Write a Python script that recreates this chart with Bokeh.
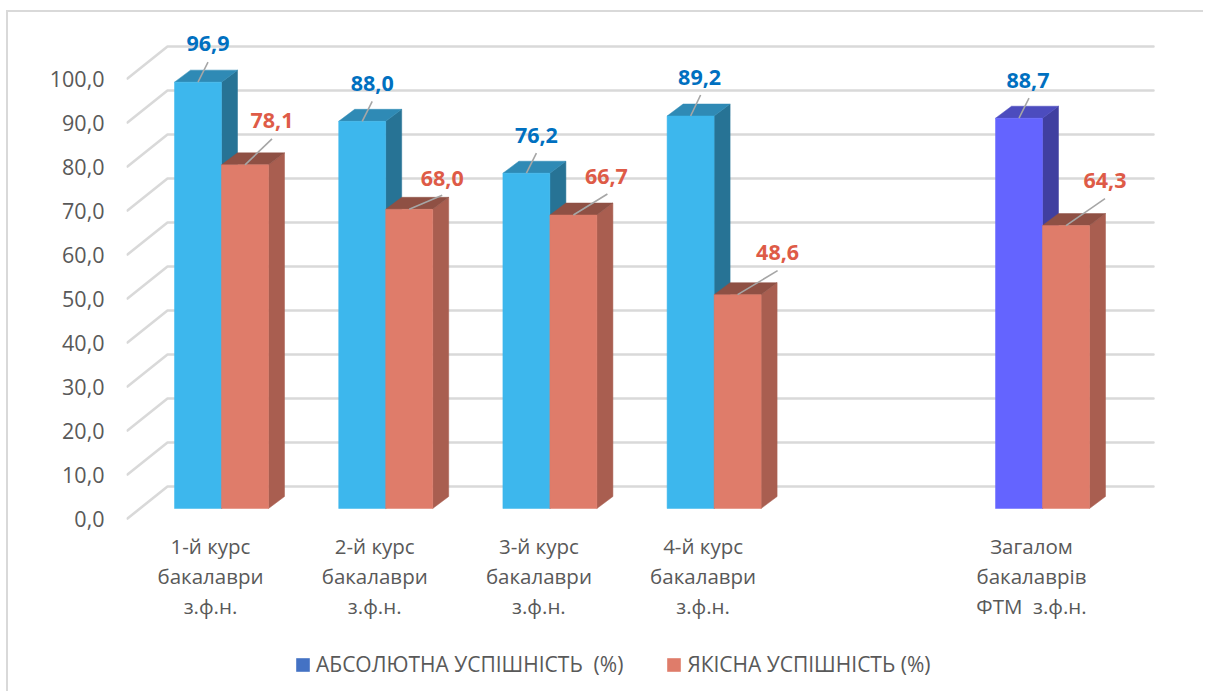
from bokeh.plotting import figure
from bokeh.embed import file_html
from bokeh.resources import INLINE
from bokeh.core.properties import value
from bokeh.models import FixedTicker, Legend, LegendItem, ColumnDataSource, Range1d

# ---- data
categories = ["1-й курс\nбакалаври\nз.ф.н.", "2-й курс\nбакалаври\nз.ф.н.",
              "3-й курс\nбакалаври\nз.ф.н.", "4-й курс\nбакалаври\nз.ф.н.",
              "Загалом\nбакалаврів\nФТМ \u00a0з.ф.н."]
positions = [0, 1, 2, 3, 5]
absolute = [96.9, 88.0, 76.2, 89.2, 88.7]
quality = [78.1, 68.0, 66.7, 48.6, 64.3]
absolute_labels = ["96,9", "88,0", "76,2", "89,2", "88,7"]
quality_labels = ["78,1", "68,0", "66,7", "48,6", "64,3"]
y_ticks = [0, 10, 20, 30, 40, 50, 60, 70, 80, 90, 100]
y_tick_labels = ["0,0", "10,0", "20,0", "30,0", "40,0", "50,0", "60,0", "70,0", "80,0", "90,0", "100,0"]
series_names = ["АБСОЛЮТНА УСПІШНІСТЬ \u00a0(%)", "ЯКІСНА УСПІШНІСТЬ (%)"]

# ---- styling / geometry
PX_X = 164.2          # px per category
PX_Y = 4.4            # px per value unit
FONT = "Open Sans"
GRID = "#D9D9D9"
TXT = "#595959"
BLUE = ("#3DB7ED", "#2F8AB5", "#277395")
PURPLE = ("#6464FF", "#4C4CBE", "#403FA0")
RED = ("#DF7C6A", "#8F5044", "#A95E50")

ORG_X, ORG_Y = 8, 12    # page position of the figure
FRAME_L, FRAME_R, FRAME_T, FRAME_B = 126, 1205, 12, 693
X0, Y0 = 210, 518       # pixel position of category 0 and of value 0 on the front edge

def ux(px):
    return px / PX_X

def uy(px):
    return px / PX_Y

p = figure(width=1205 - ORG_X, height=693 - ORG_Y, output_backend="svg", toolbar_location=None,
           frame_width=FRAME_R - FRAME_L, frame_height=FRAME_B - FRAME_T,
           x_axis_location=None,
           x_range=Range1d((FRAME_L - X0) / PX_X, (FRAME_R - X0) / PX_X),
           y_range=Range1d((Y0 - FRAME_B) / PX_Y, (Y0 - FRAME_T) / PX_Y),
           min_border_left=FRAME_L - ORG_X, min_border_top=0, min_border_right=0, min_border_bottom=0)
p.margin = (ORG_Y, 0, 0, ORG_X)
p.styles = {"box-shadow": "-2px -2px 0 0 " + GRID}
p.outline_line_color = None
p.grid.visible = False

# 3-D walls: slanted side part and back-wall gridline for each tick
wx0, wx1, wx2 = ux(127 - X0), ux(167 - X0), ux(1153 - X0)
lift = uy(32)
p.multi_line([[wx0, wx1, wx2] for _ in y_ticks],
             [[t, t + lift, t + lift] for t in y_ticks],
             line_color=GRID, line_width=2.6, line_cap="round", line_join="round")

# 3-D bars
half = ux(11)          # front plane sits right of the category label
w = ux(47)
dx, dy = ux(16), uy(12)
base = uy(10)

def bar(x0, v, cols):
    x1 = x0 + w
    top = v + base
    p.patch([x1, x1 + dx, x1 + dx, x1], [base, base + dy, top + dy, top], fill_color=cols[2], line_color=cols[2], line_width=0.5)
    p.patch([x0, x0 + dx, x1 + dx, x1], [top, top + dy, top + dy, top], fill_color=cols[1], line_color=cols[1], line_width=0.5)
    p.quad(left=x0, right=x1, bottom=base, top=top, fill_color=cols[0], line_color=cols[0], line_width=0.5)

for i, pos in enumerate(positions):
    c = pos + half
    bar(c - w, absolute[i], PURPLE if pos == 5 else BLUE)
    bar(c, quality[i], RED)

# data labels with leader lines (offsets from bar-top centre, px)
blue_off = [(10, -39), (10, -38), (10, -38), (9, -39), (9, -38)]
blue_lead = [(10, -20), (10, -20), (10, -20), (10, -21), (10, -20)]
red_off = [(27, -44), (33, -31), (33, -39), (40, -42), (39, -45)]
red_lead = [(27, -26), (33, -14), (34, -21), (40, -24), (39, -27)]

def labels(vals, texts, sign, off, lead, color):
    lx, ly, xs, ys = [], [], [], []
    for i, pos in enumerate(positions):
        cx = pos + half + sign * w / 2
        top = vals[i] + base
        lx.append(cx + ux(off[i][0]))
        ly.append(top - uy(off[i][1]))
        xs.append([cx, cx + ux(lead[i][0])])
        ys.append([top, top - uy(lead[i][1])])
    p.multi_line(xs, ys, line_color="#A6A6A6", line_width=1.6)
    p.text(lx, ly, text=texts, text_color=color, text_font=value(FONT), text_font_style="bold",
           text_font_size="21.5px", text_align="center", text_baseline="middle")

labels(absolute, absolute_labels, -1, blue_off, blue_lead, "#0070C0")
labels(quality, quality_labels, 1, red_off, red_lead, "#DE5B47")

# y axis
ya = p.yaxis[0]
ya.ticker = FixedTicker(ticks=y_ticks)
ya.bounds = (0, 100)
ya.major_label_overrides = dict(zip(y_ticks, y_tick_labels))
ya.axis_line_color = None
ya.major_tick_line_color = None
ya.minor_tick_line_color = None
ya.major_label_standoff = 16
ya.major_label_text_font = FONT
ya.major_label_text_font_size = "21.5px"
ya.major_label_text_color = TXT

# category labels
p.text(positions, [-uy(13)] * len(positions), text=categories, text_color=TXT, text_font=value(FONT),
       text_font_size="20.5px", text_align="center", text_baseline="top", text_line_height=1.076)

# legend
nan = float("nan")
src = ColumnDataSource(dict(l=[nan], r=[nan], b=[nan], t=[nan]))
r1 = p.quad(left="l", right="r", bottom="b", top="t", source=src, fill_color="#4472C4", line_color=None)
r2 = p.quad(left="l", right="r", bottom="b", top="t", source=src, fill_color="#DF7C6A", line_color=None)
legend = Legend(items=[LegendItem(label=series_names[0], renderers=[r1]),
                       LegendItem(label=series_names[1], renderers=[r2])],
                orientation="horizontal", location=(168, 15), border_line_color=None,
                background_fill_alpha=0, glyph_width=17, glyph_height=17, label_standoff=5, spacing=42,
                label_text_font=FONT, label_text_font_size="21px", label_text_color=TXT,
                margin=0, padding=6)
p.add_layout(legend, "center")

open("out.html", "w").write(file_html(p, INLINE))
